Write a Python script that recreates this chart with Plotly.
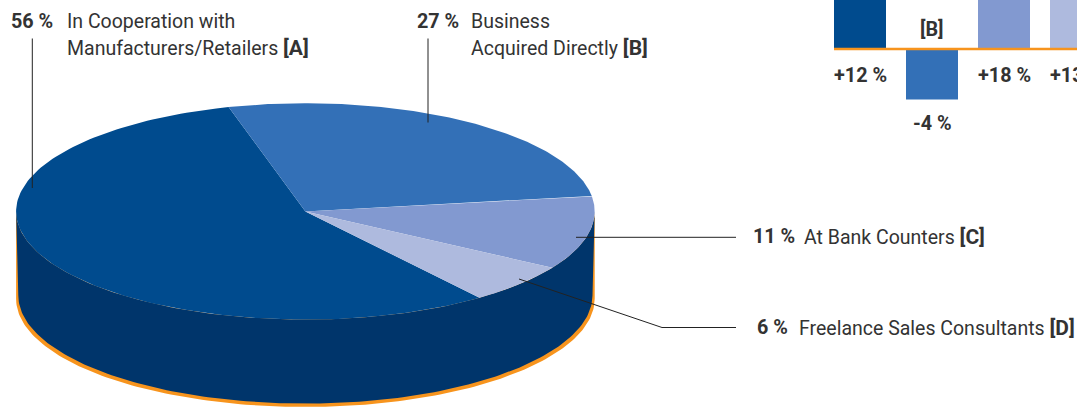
import numpy as np
import plotly.graph_objects as go

# Share of new business by sales channel
CHANNELS = ["A", "B", "C", "D"]
SHARES = [56, 27, 11, 6]
# Year-on-year change per channel
CHANGES = [12, -4, 18, 13]

SHARE_TEXT = ["56 %", "27 %", "11 %", "6 %"]
CHANGE_TEXT = ["+12 %", "-4 %", "+18 %", "+13 %"]

TOP_COLORS = ["#004b8e", "#3370b7", "#8299d0", "#aebade"]
SIDE_COLOR = "#00356b"
RIM_COLOR = "#f7941d"
INK = "#333333"
LEAD = "#222222"
FONT = "Roboto"
SIZE = 19.5
BOLD_SIZE = 19.8
TAG_SIZE = 21

WIDTH, HEIGHT = 1077, 407

# Pie disc geometry, in page units
CX, CY, RX, RY = 305.4, 211.4, 289.3, 108.2
DEPTH, RIM, WALL_INSET = 84, 3.4, 2.2
START_DEG = -53.0


def rim_points(a0, a1, rx=RX, n=160):
    t = np.radians(np.linspace(a0, a1, n))
    return CX + rx * np.cos(t), CY - RY * np.sin(t)


def wall_outline(dy, inset):
    # Lower half of the top rim, joined to the same curve dropped by dy
    x, y = rim_points(180, 360)
    low_x, low_y = rim_points(360, 180, rx=RX - inset)
    return np.concatenate([x, low_x]), np.concatenate([y, low_y + dy])


fig = go.Figure()

# Orange base first, then the dark wall on top of it
for dy, inset, color in ((DEPTH + RIM, 0, RIM_COLOR), (DEPTH, WALL_INSET, SIDE_COLOR)):
    wx, wy = wall_outline(dy, inset)
    fig.add_trace(go.Scatter(x=wx, y=wy, mode="lines", fill="toself", fillcolor=color,
                             line=dict(width=0), hoverinfo="skip", xaxis="x", yaxis="y"))

# Top face: slices run clockwise, sized by their share
angle = START_DEG
for share, color, name in zip(SHARES, TOP_COLORS, CHANNELS):
    sweep = 360 * share / sum(SHARES)
    sx, sy = rim_points(angle, angle - sweep)
    fig.add_trace(go.Scatter(x=np.r_[CX, sx, CX], y=np.r_[CY, sy, CY], mode="lines",
                             fill="toself", fillcolor=color, line=dict(width=0),
                             name=name, hoverinfo="name", xaxis="x", yaxis="y"))
    angle -= sweep

# Leader lines from the labels into the slices
LEADERS = [
    ([32.3, 32.3], [38.5, 188]),
    ([428, 428], [38.5, 122.5]),
    ([576, 736], [237.3, 237.3]),
    ([519, 662, 736], [279, 327.5, 327.5]),
]
for lx, ly in LEADERS:
    fig.add_trace(go.Scatter(x=lx, y=ly, mode="lines", line=dict(color=LEAD, width=1),
                             hoverinfo="skip", xaxis="x", yaxis="y"))

# Change chart: signed bars around an orange zero line
fig.add_trace(go.Bar(x=list(range(len(CHANGES))), y=CHANGES, width=52 / 72,
                     marker=dict(color=TOP_COLORS, line=dict(width=0)),
                     hoverinfo="y", xaxis="x2", yaxis="y2"))
fig.add_trace(go.Scatter(x=[-0.361, 3.1], y=[0, 0], mode="lines",
                         line=dict(color=RIM_COLOR, width=2.6),
                         hoverinfo="skip", xaxis="x2", yaxis="y2"))

annotations = []


def label(x, y, text, xref="x", yref="y", anchor="left", yshift=0, size=SIZE):
    annotations.append(dict(x=x, y=y, xref=xref, yref=yref, text=text, showarrow=False,
                            xanchor=anchor, yanchor="middle", yshift=yshift, align="left",
                            font=dict(family=FONT, size=size, color=INK)))


def bold(s):
    return f"<b>{s}</b>"


def tag(name):
    return f"<span style='font-size:{TAG_SIZE}px'><b>[{name}]</b></span>"


# Pie labels: value in bold, then the channel name and its letter
label(9, 21, bold(SHARE_TEXT[0]), size=BOLD_SIZE)
label(65, 21, "In Cooperation with")
label(65, 48, f"Manufacturers/Retailers {tag(CHANNELS[0])}")
label(415, 21, bold(SHARE_TEXT[1]), size=BOLD_SIZE)
label(469, 21, "Business")
label(469, 48, f"Acquired Directly {tag(CHANNELS[1])}")
label(751, 236.5, bold(SHARE_TEXT[2]), size=BOLD_SIZE)
label(802, 236.5, f"At Bank Counters {tag(CHANNELS[2])}")
label(755, 327.5, bold(SHARE_TEXT[3]), size=BOLD_SIZE)
label(797, 327.5, f"Freelance Sales Consultants {tag(CHANNELS[3])}")

# Bar labels hang below the zero line or below a negative bar
for i, (value, text, name) in enumerate(zip(CHANGES, CHANGE_TEXT, CHANNELS)):
    if value < 0:
        label(i, value, bold(text), "x2", "y2", "center", yshift=-24, size=BOLD_SIZE)
        label(i, 0, bold(f"[{name}]"), "x2", "y2", "center", yshift=20, size=BOLD_SIZE)
    else:
        label(i, 0, bold(text), "x2", "y2", "center", yshift=-26, size=BOLD_SIZE)

hidden = dict(visible=False, showgrid=False, zeroline=False, fixedrange=True)
PX_PER_PCT = 12.6
ZERO_Y = 49.0
CAT_STEP = 72
CAT_ZERO_X = 860
PANEL_LEFT = 824

fig.update_layout(
    width=WIDTH, height=HEIGHT, autosize=False,
    margin=dict(l=0, r=0, t=0, b=0),
    paper_bgcolor="white", plot_bgcolor="rgba(0,0,0,0)",
    showlegend=False, annotations=annotations,
    xaxis=dict(range=[0, WIDTH], domain=[0, 1], **hidden),
    yaxis=dict(range=[HEIGHT, 0], domain=[0, 1], **hidden),
    xaxis2=dict(range=[(PANEL_LEFT - CAT_ZERO_X) / CAT_STEP, (WIDTH - CAT_ZERO_X) / CAT_STEP],
                domain=[PANEL_LEFT / WIDTH, 1], anchor="y2", **hidden),
    yaxis2=dict(range=[-(HEIGHT - ZERO_Y) / PX_PER_PCT, ZERO_Y / PX_PER_PCT],
                domain=[0, 1], anchor="x2", **hidden),
)

fig.write_html("out.html", config={"displayModeBar": False})
